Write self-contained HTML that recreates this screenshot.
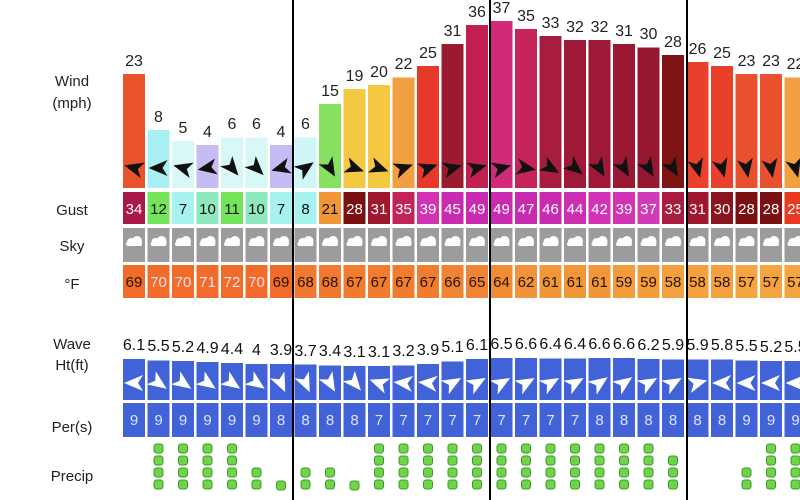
<!DOCTYPE html>
<html><head><meta charset="utf-8"><style>
html,body{margin:0;padding:0;background:#fff;width:800px;height:500px;overflow:hidden}
svg{display:block;font-family:"Liberation Sans",sans-serif}
</style></head><body>
<svg width="800" height="500" viewBox="0 0 800 500" xmlns="http://www.w3.org/2000/svg">
<defs>
<polygon id="a" points="10,0 -9,-8 -4,0 -9,8" fill="#111"/>
<polygon id="w" points="10,0 -9,-8 -4,0 -9,8" fill="#fff"/>
<g id="c" fill="#fff"><circle cx="-3" cy="0" r="4"/><circle cx="3" cy="-1" r="5"/><rect x="-8" y="0" width="16" height="4" rx="2"/></g>
<rect id="d" x="-4.5" y="0" width="9" height="9" rx="2.5" fill="#6ed44a" stroke="#3f9a2a" stroke-width="1"/>
</defs>
<g font-size="15" fill="#222" text-anchor="middle">
<text x="72" y="86">Wind</text><text x="72" y="108">(mph)</text>
<text x="72" y="215">Gust</text><text x="72" y="251">Sky</text><text x="72" y="289">°F</text>
<text x="72" y="349">Wave</text><text x="72" y="370">Ht(ft)</text>
<text x="72" y="432">Per(s)</text><text x="72" y="481">Precip</text>
</g>
<g>
<rect x="123" y="74" width="22" height="114" fill="#e8532c"/>
<rect x="147.5" y="130" width="22" height="58" fill="#a8f0f4"/>
<rect x="172" y="141" width="22" height="47" fill="#d8f8f8"/>
<rect x="196.5" y="145" width="22" height="43" fill="#c4bcf2"/>
<rect x="221" y="137.5" width="22" height="50.5" fill="#d8f8f8"/>
<rect x="245.5" y="137.5" width="22" height="50.5" fill="#d8f8f8"/>
<rect x="270" y="145" width="22" height="43" fill="#c4bcf2"/>
<rect x="294.5" y="137.5" width="22" height="50.5" fill="#d0f6f8"/>
<rect x="319" y="104" width="22" height="84" fill="#88e060"/>
<rect x="343.5" y="89" width="22" height="99" fill="#f5c842"/>
<rect x="368" y="85" width="22" height="103" fill="#f5c842"/>
<rect x="392.5" y="77.5" width="22" height="110.5" fill="#f0a040"/>
<rect x="417" y="66" width="22" height="122" fill="#e8382a"/>
<rect x="441.5" y="44" width="22" height="144" fill="#9c1a30"/>
<rect x="466" y="25" width="22" height="163" fill="#c02050"/>
<rect x="490.5" y="21" width="22" height="167" fill="#d02a78"/>
<rect x="515" y="29" width="22" height="159" fill="#c42458"/>
<rect x="539.5" y="36" width="22" height="152" fill="#a81c40"/>
<rect x="564" y="40" width="22" height="148" fill="#a01838"/>
<rect x="588.5" y="40" width="22" height="148" fill="#a01838"/>
<rect x="613" y="44" width="22" height="144" fill="#9a1832"/>
<rect x="637.5" y="47.5" width="22" height="140.5" fill="#961830"/>
<rect x="662" y="55" width="22" height="133" fill="#7e1414"/>
<rect x="686.5" y="62" width="22" height="126" fill="#e8402a"/>
<rect x="711" y="66" width="22" height="122" fill="#e8402a"/>
<rect x="735.5" y="74" width="22" height="114" fill="#e8502e"/>
<rect x="760" y="74" width="22" height="114" fill="#e8502e"/>
<rect x="784.5" y="77.5" width="22" height="110.5" fill="#f0a040"/>
</g>
<g font-size="16" fill="#222" text-anchor="middle">
<text x="134" y="66">23</text><text x="158.5" y="122">8</text><text x="183" y="133">5</text><text x="207.5" y="137">4</text>
<text x="232" y="129">6</text><text x="256.5" y="129">6</text><text x="281" y="137">4</text><text x="305.5" y="129">6</text>
<text x="330" y="96">15</text><text x="354.5" y="81">19</text><text x="379" y="77">20</text><text x="403.5" y="69">22</text>
<text x="428" y="58">25</text><text x="452.5" y="36">31</text><text x="477" y="17">36</text><text x="501.5" y="13">37</text>
<text x="526" y="21">35</text><text x="550.5" y="28">33</text><text x="575" y="32">32</text><text x="599.5" y="32">32</text>
<text x="624" y="36">31</text><text x="648.5" y="39">30</text><text x="673" y="47">28</text><text x="697.5" y="54">26</text>
<text x="722" y="58">25</text><text x="746.5" y="66">23</text><text x="771" y="66">23</text><text x="795.5" y="69">22</text>
</g>
<g>
<use href="#a" transform="translate(134,168) rotate(195)"/>
<use href="#a" transform="translate(158.5,168) rotate(180)"/>
<use href="#a" transform="translate(183,168) rotate(195)"/>
<use href="#a" transform="translate(207.5,168) rotate(170)"/>
<use href="#a" transform="translate(232,168) rotate(50)"/>
<use href="#a" transform="translate(256.5,168) rotate(45)"/>
<use href="#a" transform="translate(281,168) rotate(165)"/>
<use href="#a" transform="translate(305.5,168) rotate(-35)"/>
<use href="#a" transform="translate(330,168) rotate(60)"/>
<use href="#a" transform="translate(354.5,168) rotate(20)"/>
<use href="#a" transform="translate(379,168) rotate(20)"/>
<use href="#a" transform="translate(403.5,168) rotate(-20)"/>
<use href="#a" transform="translate(428,168) rotate(-20)"/>
<use href="#a" transform="translate(452.5,168) rotate(-15)"/>
<use href="#a" transform="translate(477,168) rotate(-15)"/>
<use href="#a" transform="translate(501.5,168) rotate(-15)"/>
<use href="#a" transform="translate(526,168) rotate(10)"/>
<use href="#a" transform="translate(550.5,168) rotate(30)"/>
<use href="#a" transform="translate(575,168) rotate(40)"/>
<use href="#a" transform="translate(599.5,168) rotate(60)"/>
<use href="#a" transform="translate(624,168) rotate(60)"/>
<use href="#a" transform="translate(648.5,168) rotate(60)"/>
<use href="#a" transform="translate(673,168) rotate(60)"/>
<use href="#a" transform="translate(697.5,168) rotate(75)"/>
<use href="#a" transform="translate(722,168) rotate(75)"/>
<use href="#a" transform="translate(746.5,168) rotate(80)"/>
<use href="#a" transform="translate(771,168) rotate(80)"/>
<use href="#a" transform="translate(795.5,168) rotate(75)"/>
</g>
<g>
<rect x="123" y="192" width="22" height="32" fill="#a8184a"/>
<rect x="147.5" y="192" width="22" height="32" fill="#74e55a"/>
<rect x="172" y="192" width="22" height="32" fill="#a6f2f0"/>
<rect x="196.5" y="192" width="22" height="32" fill="#8ee8c0"/>
<rect x="221" y="192" width="22" height="32" fill="#74e55a"/>
<rect x="245.5" y="192" width="22" height="32" fill="#8ee8c0"/>
<rect x="270" y="192" width="22" height="32" fill="#a6f2f0"/>
<rect x="294.5" y="192" width="22" height="32" fill="#a6f2f0"/>
<rect x="319" y="192" width="22" height="32" fill="#f09538"/>
<rect x="343.5" y="192" width="22" height="32" fill="#7a1010"/>
<rect x="368" y="192" width="22" height="32" fill="#a01830"/>
<rect x="392.5" y="192" width="22" height="32" fill="#c02458"/>
<rect x="417" y="192" width="22" height="32" fill="#d232b4"/>
<rect x="441.5" y="192" width="22" height="32" fill="#c82ab0"/>
<rect x="466" y="192" width="22" height="32" fill="#c82ab0"/>
<rect x="490.5" y="192" width="22" height="32" fill="#c82ab0"/>
<rect x="515" y="192" width="22" height="32" fill="#c82ab0"/>
<rect x="539.5" y="192" width="22" height="32" fill="#c82ab0"/>
<rect x="564" y="192" width="22" height="32" fill="#cc2eb2"/>
<rect x="588.5" y="192" width="22" height="32" fill="#d232b4"/>
<rect x="613" y="192" width="22" height="32" fill="#d232b4"/>
<rect x="637.5" y="192" width="22" height="32" fill="#d03cb8"/>
<rect x="662" y="192" width="22" height="32" fill="#a81c40"/>
<rect x="686.5" y="192" width="22" height="32" fill="#a01830"/>
<rect x="711" y="192" width="22" height="32" fill="#8a1420"/>
<rect x="735.5" y="192" width="22" height="32" fill="#7a1010"/>
<rect x="760" y="192" width="22" height="32" fill="#7a1010"/>
<rect x="784.5" y="192" width="22" height="32" fill="#e83a20"/>
</g>
<g font-size="15" text-anchor="middle">
<text x="134" y="214" fill="#fff">34</text><text x="158.5" y="214" fill="#111">12</text><text x="183" y="214" fill="#111">7</text><text x="207.5" y="214" fill="#111">10</text>
<text x="232" y="214" fill="#111">11</text><text x="256.5" y="214" fill="#111">10</text><text x="281" y="214" fill="#111">7</text><text x="305.5" y="214" fill="#111">8</text>
<text x="330" y="214" fill="#111">21</text>
<g fill="#fff">
<text x="354.5" y="214">28</text><text x="379" y="214">31</text><text x="403.5" y="214">35</text>
<text x="428" y="214">39</text><text x="452.5" y="214">45</text><text x="477" y="214">49</text><text x="501.5" y="214">49</text>
<text x="526" y="214">47</text><text x="550.5" y="214">46</text><text x="575" y="214">44</text><text x="599.5" y="214">42</text>
<text x="624" y="214">39</text><text x="648.5" y="214">37</text><text x="673" y="214">33</text><text x="697.5" y="214">31</text>
<text x="722" y="214">30</text><text x="746.5" y="214">28</text><text x="771" y="214">28</text><text x="795.5" y="214">25</text>
</g></g>
<g fill="#9c9c9c">
<rect x="123" y="228" width="22" height="34"/><rect x="147.5" y="228" width="22" height="34"/><rect x="172" y="228" width="22" height="34"/><rect x="196.5" y="228" width="22" height="34"/>
<rect x="221" y="228" width="22" height="34"/><rect x="245.5" y="228" width="22" height="34"/><rect x="270" y="228" width="22" height="34"/><rect x="294.5" y="228" width="22" height="34"/>
<rect x="319" y="228" width="22" height="34"/><rect x="343.5" y="228" width="22" height="34"/><rect x="368" y="228" width="22" height="34"/><rect x="392.5" y="228" width="22" height="34"/>
<rect x="417" y="228" width="22" height="34"/><rect x="441.5" y="228" width="22" height="34"/><rect x="466" y="228" width="22" height="34"/><rect x="490.5" y="228" width="22" height="34"/>
<rect x="515" y="228" width="22" height="34"/><rect x="539.5" y="228" width="22" height="34"/><rect x="564" y="228" width="22" height="34"/><rect x="588.5" y="228" width="22" height="34"/>
<rect x="613" y="228" width="22" height="34"/><rect x="637.5" y="228" width="22" height="34"/><rect x="662" y="228" width="22" height="34"/><rect x="686.5" y="228" width="22" height="34"/>
<rect x="711" y="228" width="22" height="34"/><rect x="735.5" y="228" width="22" height="34"/><rect x="760" y="228" width="22" height="34"/><rect x="784.5" y="228" width="22" height="34"/>
</g>
<g>
<use href="#c" transform="translate(134,242)"/><use href="#c" transform="translate(158.5,242)"/><use href="#c" transform="translate(183,242)"/><use href="#c" transform="translate(207.5,242)"/>
<use href="#c" transform="translate(232,242)"/><use href="#c" transform="translate(256.5,242)"/><use href="#c" transform="translate(281,242)"/><use href="#c" transform="translate(305.5,242)"/>
<use href="#c" transform="translate(330,242)"/><use href="#c" transform="translate(354.5,242)"/><use href="#c" transform="translate(379,242)"/><use href="#c" transform="translate(403.5,242)"/>
<use href="#c" transform="translate(428,242)"/><use href="#c" transform="translate(452.5,242)"/><use href="#c" transform="translate(477,242)"/><use href="#c" transform="translate(501.5,242)"/>
<use href="#c" transform="translate(526,242)"/><use href="#c" transform="translate(550.5,242)"/><use href="#c" transform="translate(575,242)"/><use href="#c" transform="translate(599.5,242)"/>
<use href="#c" transform="translate(624,242)"/><use href="#c" transform="translate(648.5,242)"/><use href="#c" transform="translate(673,242)"/><use href="#c" transform="translate(697.5,242)"/>
<use href="#c" transform="translate(722,242)"/><use href="#c" transform="translate(746.5,242)"/><use href="#c" transform="translate(771,242)"/><use href="#c" transform="translate(795.5,242)"/>
</g>
<g>
<rect x="123" y="265" width="22" height="33" fill="#ef6c2a"/><rect x="147.5" y="265" width="22" height="33" fill="#ef6c2a"/><rect x="172" y="265" width="22" height="33" fill="#ef6c2a"/><rect x="196.5" y="265" width="22" height="33" fill="#ef6c2a"/>
<rect x="221" y="265" width="22" height="33" fill="#ef6c2a"/><rect x="245.5" y="265" width="22" height="33" fill="#ef6c2a"/><rect x="270" y="265" width="22" height="33" fill="#ef6c2a"/><rect x="294.5" y="265" width="22" height="33" fill="#f07830"/>
<rect x="319" y="265" width="22" height="33" fill="#f07830"/><rect x="343.5" y="265" width="22" height="33" fill="#f07c30"/><rect x="368" y="265" width="22" height="33" fill="#f07c30"/><rect x="392.5" y="265" width="22" height="33" fill="#f07c30"/>
<rect x="417" y="265" width="22" height="33" fill="#f07c30"/><rect x="441.5" y="265" width="22" height="33" fill="#f08434"/><rect x="466" y="265" width="22" height="33" fill="#f08434"/><rect x="490.5" y="265" width="22" height="33" fill="#f08c36"/>
<rect x="515" y="265" width="22" height="33" fill="#f2923a"/><rect x="539.5" y="265" width="22" height="33" fill="#f2963a"/><rect x="564" y="265" width="22" height="33" fill="#f2963a"/><rect x="588.5" y="265" width="22" height="33" fill="#f2963a"/>
<rect x="613" y="265" width="22" height="33" fill="#f39c3c"/><rect x="637.5" y="265" width="22" height="33" fill="#f39c3c"/><rect x="662" y="265" width="22" height="33" fill="#f4a03e"/><rect x="686.5" y="265" width="22" height="33" fill="#f4a03e"/>
<rect x="711" y="265" width="22" height="33" fill="#f4a03e"/><rect x="735.5" y="265" width="22" height="33" fill="#f4a440"/><rect x="760" y="265" width="22" height="33" fill="#f4a440"/><rect x="784.5" y="265" width="22" height="33" fill="#f4a440"/>
</g>
<g font-size="15" text-anchor="middle" fill="#2a1400">
<text x="134" y="287">69</text><text x="158.5" y="287" fill="#fde">70</text><text x="183" y="287" fill="#fde">70</text><text x="207.5" y="287" fill="#fde">71</text>
<text x="232" y="287" fill="#fde">72</text><text x="256.5" y="287" fill="#fde">70</text><text x="281" y="287">69</text><text x="305.5" y="287">68</text>
<text x="330" y="287">68</text><text x="354.5" y="287">67</text><text x="379" y="287">67</text><text x="403.5" y="287">67</text>
<text x="428" y="287">67</text><text x="452.5" y="287">66</text><text x="477" y="287">65</text><text x="501.5" y="287">64</text>
<text x="526" y="287">62</text><text x="550.5" y="287">61</text><text x="575" y="287">61</text><text x="599.5" y="287">61</text>
<text x="624" y="287">59</text><text x="648.5" y="287">59</text><text x="673" y="287">58</text><text x="697.5" y="287">58</text>
<text x="722" y="287">58</text><text x="746.5" y="287">57</text><text x="771" y="287">57</text><text x="795.5" y="287">57</text>
</g>
<g fill="#4262d8">
<rect x="123" y="359" width="22" height="41"/><rect x="147.5" y="360.5" width="22" height="39.5"/><rect x="172" y="361" width="22" height="39"/><rect x="196.5" y="362" width="22" height="38"/>
<rect x="221" y="363" width="22" height="37"/><rect x="245.5" y="364" width="22" height="36"/><rect x="270" y="364" width="22" height="36"/><rect x="294.5" y="364.5" width="22" height="35.5"/>
<rect x="319" y="365.5" width="22" height="34.5"/><rect x="343.5" y="366" width="22" height="34"/><rect x="368" y="366" width="22" height="34"/><rect x="392.5" y="365.5" width="22" height="34.5"/>
<rect x="417" y="364" width="22" height="36"/><rect x="441.5" y="361.5" width="22" height="38.5"/><rect x="466" y="359" width="22" height="41"/><rect x="490.5" y="358" width="22" height="42"/>
<rect x="515" y="358" width="22" height="42"/><rect x="539.5" y="358.5" width="22" height="41.5"/><rect x="564" y="358.5" width="22" height="41.5"/><rect x="588.5" y="358" width="22" height="42"/>
<rect x="613" y="358" width="22" height="42"/><rect x="637.5" y="359" width="22" height="41"/><rect x="662" y="359.5" width="22" height="40.5"/><rect x="686.5" y="359.5" width="22" height="40.5"/>
<rect x="711" y="359.5" width="22" height="40.5"/><rect x="735.5" y="360.5" width="22" height="39.5"/><rect x="760" y="361" width="22" height="39"/><rect x="784.5" y="361" width="22" height="39"/>
</g>
<g font-size="16" text-anchor="middle" fill="#111">
<text x="134" y="350">6.1</text><text x="158.5" y="351">5.5</text><text x="183" y="352">5.2</text><text x="207.5" y="353">4.9</text>
<text x="232" y="354">4.4</text><text x="256.5" y="355">4</text><text x="281" y="355">3.9</text><text x="305.5" y="356">3.7</text>
<text x="330" y="356">3.4</text><text x="354.5" y="357">3.1</text><text x="379" y="357">3.1</text><text x="403.5" y="356">3.2</text>
<text x="428" y="355">3.9</text><text x="452.5" y="352">5.1</text><text x="477" y="350">6.1</text><text x="501.5" y="349">6.5</text>
<text x="526" y="349">6.6</text><text x="550.5" y="349">6.4</text><text x="575" y="349">6.4</text><text x="599.5" y="349">6.6</text>
<text x="624" y="349">6.6</text><text x="648.5" y="350">6.2</text><text x="673" y="350">5.9</text><text x="697.5" y="350">5.9</text>
<text x="722" y="350">5.8</text><text x="746.5" y="351">5.5</text><text x="771" y="352">5.2</text><text x="795.5" y="352">5.5</text>
</g>
<g>
<use href="#w" transform="translate(134,383) rotate(180)"/><use href="#w" transform="translate(158.5,383) rotate(35)"/><use href="#w" transform="translate(183,383) rotate(35)"/><use href="#w" transform="translate(207.5,383) rotate(35)"/>
<use href="#w" transform="translate(232,383) rotate(35)"/><use href="#w" transform="translate(256.5,383) rotate(35)"/><use href="#w" transform="translate(281,383) rotate(65)"/><use href="#w" transform="translate(305.5,383) rotate(65)"/>
<use href="#w" transform="translate(330,383) rotate(60)"/><use href="#w" transform="translate(354.5,383) rotate(50)"/><use href="#w" transform="translate(379,383) rotate(200)"/><use href="#w" transform="translate(403.5,383) rotate(185)"/>
<use href="#w" transform="translate(428,383) rotate(185)"/><use href="#w" transform="translate(452.5,383) rotate(-30)"/><use href="#w" transform="translate(477,383) rotate(-30)"/><use href="#w" transform="translate(501.5,383) rotate(-30)"/>
<use href="#w" transform="translate(526,383) rotate(-30)"/><use href="#w" transform="translate(550.5,383) rotate(-30)"/><use href="#w" transform="translate(575,383) rotate(-30)"/><use href="#w" transform="translate(599.5,383) rotate(-35)"/>
<use href="#w" transform="translate(624,383) rotate(-35)"/><use href="#w" transform="translate(648.5,383) rotate(-30)"/><use href="#w" transform="translate(673,383) rotate(-30)"/><use href="#w" transform="translate(697.5,383) rotate(-15)"/>
<use href="#w" transform="translate(722,383) rotate(180)"/><use href="#w" transform="translate(746.5,383) rotate(180)"/><use href="#w" transform="translate(771,383) rotate(180)"/><use href="#w" transform="translate(795.5,383) rotate(180)"/>
</g>
<g fill="#4262d8">
<rect x="123" y="403" width="22" height="34"/><rect x="147.5" y="403" width="22" height="34"/><rect x="172" y="403" width="22" height="34"/><rect x="196.5" y="403" width="22" height="34"/>
<rect x="221" y="403" width="22" height="34"/><rect x="245.5" y="403" width="22" height="34"/><rect x="270" y="403" width="22" height="34"/><rect x="294.5" y="403" width="22" height="34"/>
<rect x="319" y="403" width="22" height="34"/><rect x="343.5" y="403" width="22" height="34"/><rect x="368" y="403" width="22" height="34"/><rect x="392.5" y="403" width="22" height="34"/>
<rect x="417" y="403" width="22" height="34"/><rect x="441.5" y="403" width="22" height="34"/><rect x="466" y="403" width="22" height="34"/><rect x="490.5" y="403" width="22" height="34"/>
<rect x="515" y="403" width="22" height="34"/><rect x="539.5" y="403" width="22" height="34"/><rect x="564" y="403" width="22" height="34"/><rect x="588.5" y="403" width="22" height="34"/>
<rect x="613" y="403" width="22" height="34"/><rect x="637.5" y="403" width="22" height="34"/><rect x="662" y="403" width="22" height="34"/><rect x="686.5" y="403" width="22" height="34"/>
<rect x="711" y="403" width="22" height="34"/><rect x="735.5" y="403" width="22" height="34"/><rect x="760" y="403" width="22" height="34"/><rect x="784.5" y="403" width="22" height="34"/>
</g>
<g font-size="15" text-anchor="middle" fill="#dde4ff">
<text x="134" y="425">9</text><text x="158.5" y="425">9</text><text x="183" y="425">9</text><text x="207.5" y="425">9</text>
<text x="232" y="425">9</text><text x="256.5" y="425">9</text><text x="281" y="425">8</text><text x="305.5" y="425">8</text>
<text x="330" y="425">8</text><text x="354.5" y="425">8</text><text x="379" y="425">7</text><text x="403.5" y="425">7</text>
<text x="428" y="425">7</text><text x="452.5" y="425">7</text><text x="477" y="425">7</text><text x="501.5" y="425">7</text>
<text x="526" y="425">7</text><text x="550.5" y="425">7</text><text x="575" y="425">7</text><text x="599.5" y="425">8</text>
<text x="624" y="425">8</text><text x="648.5" y="425">8</text><text x="673" y="425">8</text><text x="697.5" y="425">8</text>
<text x="722" y="425">8</text><text x="746.5" y="425">9</text><text x="771" y="425">9</text><text x="795.5" y="425">9</text>
</g>
<g>
<use href="#d" x="158.5" y="444"/><use href="#d" x="158.5" y="456"/><use href="#d" x="158.5" y="468"/><use href="#d" x="158.5" y="480"/>
<use href="#d" x="183" y="444"/><use href="#d" x="183" y="456"/><use href="#d" x="183" y="468"/><use href="#d" x="183" y="480"/>
<use href="#d" x="207.5" y="444"/><use href="#d" x="207.5" y="456"/><use href="#d" x="207.5" y="468"/><use href="#d" x="207.5" y="480"/>
<use href="#d" x="232" y="444"/><use href="#d" x="232" y="456"/><use href="#d" x="232" y="468"/><use href="#d" x="232" y="480"/>
<use href="#d" x="256.5" y="468"/><use href="#d" x="256.5" y="480"/>
<use href="#d" x="281" y="481"/>
<use href="#d" x="305.5" y="468"/><use href="#d" x="305.5" y="480"/>
<use href="#d" x="330" y="468"/><use href="#d" x="330" y="480"/>
<use href="#d" x="354.5" y="481"/>
<use href="#d" x="379" y="444"/><use href="#d" x="379" y="456"/><use href="#d" x="379" y="468"/><use href="#d" x="379" y="480"/>
<use href="#d" x="403.5" y="444"/><use href="#d" x="403.5" y="456"/><use href="#d" x="403.5" y="468"/><use href="#d" x="403.5" y="480"/>
<use href="#d" x="428" y="444"/><use href="#d" x="428" y="456"/><use href="#d" x="428" y="468"/><use href="#d" x="428" y="480"/>
<use href="#d" x="452.5" y="444"/><use href="#d" x="452.5" y="456"/><use href="#d" x="452.5" y="468"/><use href="#d" x="452.5" y="480"/>
<use href="#d" x="477" y="444"/><use href="#d" x="477" y="456"/><use href="#d" x="477" y="468"/><use href="#d" x="477" y="480"/>
<use href="#d" x="501.5" y="444"/><use href="#d" x="501.5" y="456"/><use href="#d" x="501.5" y="468"/><use href="#d" x="501.5" y="480"/>
<use href="#d" x="526" y="444"/><use href="#d" x="526" y="456"/><use href="#d" x="526" y="468"/><use href="#d" x="526" y="480"/>
<use href="#d" x="550.5" y="444"/><use href="#d" x="550.5" y="456"/><use href="#d" x="550.5" y="468"/><use href="#d" x="550.5" y="480"/>
<use href="#d" x="575" y="444"/><use href="#d" x="575" y="456"/><use href="#d" x="575" y="468"/><use href="#d" x="575" y="480"/>
<use href="#d" x="599.5" y="444"/><use href="#d" x="599.5" y="456"/><use href="#d" x="599.5" y="468"/><use href="#d" x="599.5" y="480"/>
<use href="#d" x="624" y="444"/><use href="#d" x="624" y="456"/><use href="#d" x="624" y="468"/><use href="#d" x="624" y="480"/>
<use href="#d" x="648.5" y="444"/><use href="#d" x="648.5" y="456"/><use href="#d" x="648.5" y="468"/><use href="#d" x="648.5" y="480"/>
<use href="#d" x="673" y="456"/><use href="#d" x="673" y="468"/><use href="#d" x="673" y="480"/>
<use href="#d" x="746.5" y="468"/><use href="#d" x="746.5" y="480"/>
<use href="#d" x="771" y="444"/><use href="#d" x="771" y="456"/><use href="#d" x="771" y="468"/><use href="#d" x="771" y="480"/>
<use href="#d" x="795.5" y="444"/><use href="#d" x="795.5" y="456"/><use href="#d" x="795.5" y="468"/><use href="#d" x="795.5" y="480"/>
</g>
<g fill="#000">
<rect x="292" y="0" width="2" height="500"/>
<rect x="489" y="0" width="2" height="500"/>
<rect x="686" y="0" width="2" height="500"/>
</g>
</svg>
</body></html>
